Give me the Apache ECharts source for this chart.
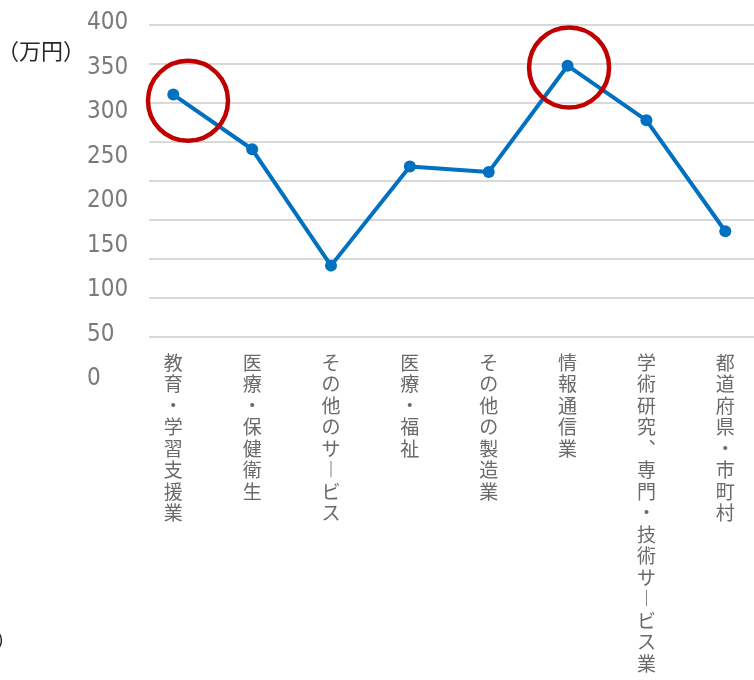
<!DOCTYPE html>
<html>
<head>
<meta charset="utf-8">
<script src="https://cdn.jsdelivr.net/npm/echarts@6/dist/echarts.min.js"></script>
<style>
html,body{margin:0;padding:0;background:#fff;}
#chart{width:754px;height:680px;}
</style>
</head>
<body>
<div id="chart"></div>
<script>
// ---- data ----
const categories = ['教育・学習支援業','医療・保健衛生','その他のサービス','医療・福祉','その他の製造業','情報通信業','学術研究、専門・技術サービス業','都道府県・市町村'];
const values = [310, 240, 91, 218, 211, 347, 277, 135];
const highlightIndex = [0, 5];
const yMin = 0, yMax = 400, yStep = 50;
const unitLabel = '（万円）';

// ---- build ----
const verticalize = s => s.split('').map(c => c === 'ー' ? '︱' : (c === '、' ? '︑' : c)).join('\n');
const circleOffsets = [[14.7, 6.2], [1.5, 1.8]];

const chart = echarts.init(document.getElementById('chart'));
chart.setOption({
  animation: false,
  backgroundColor: '#ffffff',
  grid: [
    {left: 149, right: 0, top: 24.3, bottom: 343.3},
    {left: 173.3, right: 28.7, top: 24.3, bottom: 343.3},
    {left: 87, width: 60, top: 23, bottom: 301}
  ],
  xAxis: [
    {gridIndex: 0, type: 'value', show: false, min: 0, max: 1},
    {gridIndex: 1, type: 'category', data: categories, boundaryGap: false,
     axisLine: {show: false}, axisTick: {show: false}, splitLine: {show: false},
     axisLabel: {interval: 0, margin: 15, formatter: verticalize, fontSize: 19, lineHeight: 21.5,
       fontFamily: "'Noto Sans CJK JP', sans-serif", color: '#6a6a6a', verticalAlign: 'top'}},
    {gridIndex: 2, type: 'value', show: false, min: 0, max: 1}
  ],
  yAxis: [
    {gridIndex: 0, type: 'value', min: yMin, max: yMax, interval: yStep,
     axisLine: {show: false}, axisTick: {show: false}, axisLabel: {show: false},
     splitLine: {show: true, lineStyle: {color: '#d9d9d9', width: 2}}},
    {gridIndex: 1, type: 'value', min: yMin, max: yMax, show: false},
    {gridIndex: 2, type: 'value', min: yMin, max: yMax, interval: yStep,
     axisLine: {show: false}, axisTick: {show: false}, splitLine: {show: false},
     axisLabel: {inside: true, margin: 0, align: 'left', fontSize: 24,
       fontFamily: "'DejaVu Sans Condensed', sans-serif", color: '#7a7a7a'}}
  ],
  series: [
    {type: 'line', xAxisIndex: 1, yAxisIndex: 1, data: values,
     symbol: 'circle', symbolSize: 12, z: 3,
     lineStyle: {color: '#0070C0', width: 4},
     itemStyle: {color: '#0070C0'}},
    {type: 'scatter', xAxisIndex: 1, yAxisIndex: 1, z: 5, silent: true,
     data: highlightIndex.map((i, k) => ({value: [i, values[i]], symbolOffset: circleOffsets[k]})),
     symbol: 'circle', symbolSize: 80,
     itemStyle: {color: 'rgba(0,0,0,0)', borderColor: '#C00000', borderWidth: 4.5, opacity: 1}}
  ],
  graphic: [
    {type: 'text', left: -3, top: 40, style: {text: unitLabel, font: "22px 'Noto Sans CJK JP'", fill: '#262626'}},
    {type: 'text', left: -4, top: 630, style: {text: '）', font: "20px 'Noto Sans CJK JP'", fill: '#262626'}}
  ]
});
</script>
</body>
</html>
